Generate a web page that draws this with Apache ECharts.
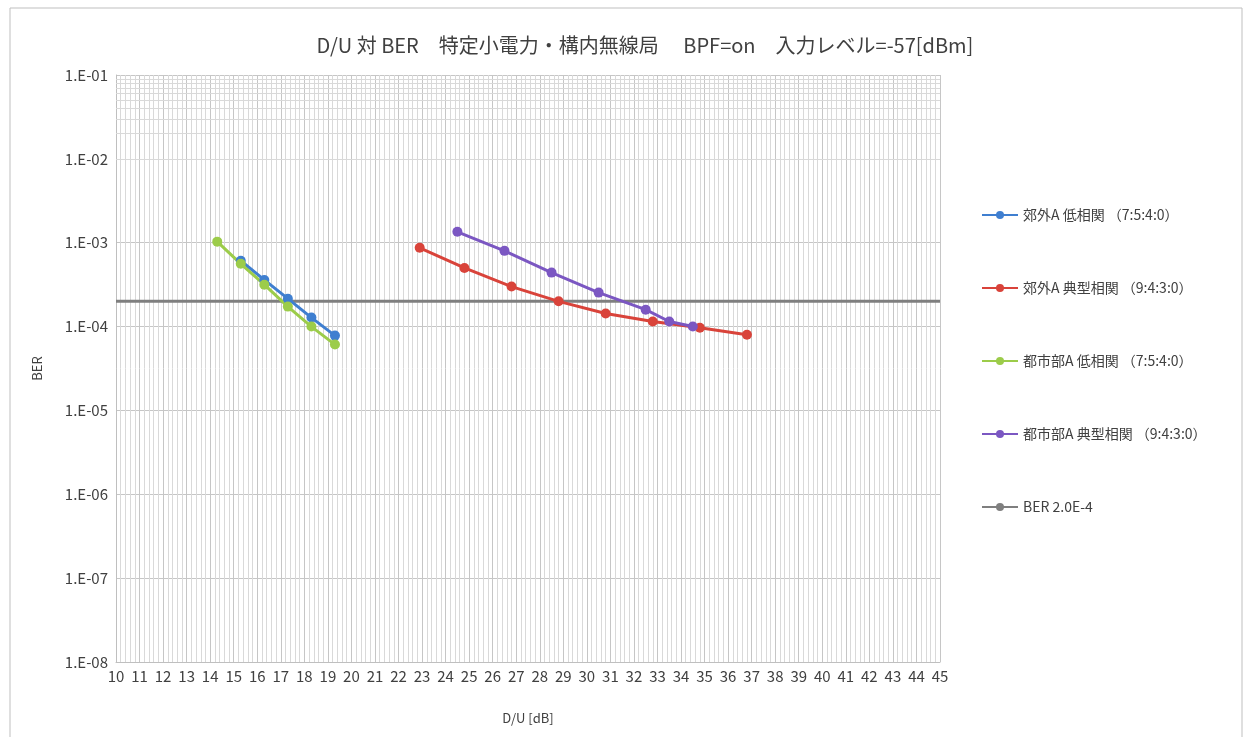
<!DOCTYPE html>
<html><head><meta charset="utf-8">
<script src="https://cdn.jsdelivr.net/npm/echarts@6/dist/echarts.min.js"></script>
<style>html,body{margin:0;padding:0;background:#fff}#c{width:1247px;height:737px}</style>
</head><body><div id="c"></div>
<script>
// Data
const titleText = 'D/U 対 BER　特定小電力・構内無線局　 BPF=on　入力レベル=-57[dBm]';
const seriesNames = ['郊外A 低相関 （7:5:4:0）', '郊外A 典型相関 （9:4:3:0）', '都市部A 低相関 （7:5:4:0）', '都市部A 典型相関 （9:4:3:0）', 'BER 2.0E-4'];
const suburbLowX = [15.3, 16.3, 17.3, 18.3, 19.3];
const suburbLowY = [6.1e-4, 3.6e-4, 2.15e-4, 1.28e-4, 7.8e-5];
const suburbTypX = [22.9, 24.8, 26.8, 28.8, 30.8, 32.8, 34.8, 36.8];
const suburbTypY = [8.7e-4, 5.0e-4, 3.0e-4, 2.0e-4, 1.43e-4, 1.15e-4, 9.7e-5, 8.0e-5];
const urbanLowX = [14.3, 15.3, 16.3, 17.3, 18.3, 19.3];
const urbanLowY = [1.03e-3, 5.6e-4, 3.16e-4, 1.73e-4, 1.0e-4, 6.1e-5];
const urbanTypX = [24.5, 26.5, 28.5, 30.5, 32.5, 33.5, 34.5];
const urbanTypY = [1.35e-3, 8.0e-4, 4.4e-4, 2.54e-4, 1.59e-4, 1.15e-4, 1.0e-4];
const berLimitX = [10, 45];
const berLimitY = [2.0e-4, 2.0e-4];
const xMin = 10, xMax = 45;
const yMinExp = -8, yMaxExp = -1;
const colors = ['#3f7fd0', '#d9433a', '#9ccc4a', '#7b57c2', '#7f7f7f'];

const zip = (xs, ys) => xs.map((x, i) => [x, ys[i]]);
// minor log gridlines (2..9 per decade)
const minorLines = [];
for (let e = yMinExp; e < yMaxExp; e++) {
  for (let k = 2; k <= 9; k++) minorLines.push({ yAxis: k * Math.pow(10, e) });
}
const font = '"Noto Sans CJK JP", "Noto Sans", sans-serif';
const chart = echarts.init(document.getElementById('c'), null, { renderer: 'canvas' });
const lineSeries = (name, data, color) => ({
  name, type: 'line', data, symbol: 'circle', symbolSize: 10,
  lineStyle: { width: 3, color }, itemStyle: { color }, z: 5
});
chart.setOption({
  animation: false,
  color: colors,
  textStyle: { fontFamily: font },
  graphic: [{ type: 'rect', shape: { x: 10, y: 8, width: 1232, height: 740 }, style: { fill: 'none', stroke: '#bfbfbf', lineWidth: 1 }, silent: true }],
  title: { text: titleText, left: 640, textAlign: 'center', top: 30, textStyle: { fontSize: 20, fontWeight: 'normal', color: '#404040', fontFamily: font } },
  legend: {
    orient: 'vertical', left: 976, top: 203, itemGap: 59, itemWidth: 36, itemHeight: 10,
    textStyle: { fontSize: 14, color: '#404040', fontFamily: font },
    data: seriesNames
  },
  grid: { left: 116, right: 307, top: 75, bottom: 75, containLabel: false },
  xAxis: {
    type: 'value', min: xMin, max: xMax, interval: 1,
    name: 'D/U [dB]', nameLocation: 'middle', nameGap: 50,
    nameTextStyle: { fontSize: 13, color: '#404040' },
    axisLine: { show: true, lineStyle: { color: '#bfbfbf' } },
    axisTick: { show: false },
    axisLabel: { fontSize: 15, color: '#404040', margin: 7 },
    splitLine: { show: true, lineStyle: { color: '#c6c6c6', width: 1 } },
    minorTick: { show: false, splitNumber: 5 },
    minorSplitLine: { show: true, lineStyle: { color: '#d9d9d9', width: 1 } }
  },
  yAxis: {
    type: 'log', logBase: 10, min: Math.pow(10, yMinExp), max: Math.pow(10, yMaxExp),
    name: 'BER', nameLocation: 'middle', nameGap: 72, nameRotate: 90,
    nameTextStyle: { fontSize: 13, color: '#404040' },
    axisLine: { show: true, lineStyle: { color: '#bfbfbf' } },
    axisTick: { show: false },
    axisLabel: { fontSize: 15, color: '#404040', margin: 8,
      formatter: v => { const e = Math.round(Math.log10(v)); return '1.E' + (e < 0 ? '-' : '+') + String(Math.abs(e)).padStart(2, '0'); } },
    splitLine: { show: true, lineStyle: { color: '#c6c6c6', width: 1 } },
    minorSplitLine: { show: false }
  },
  series: [
    lineSeries(seriesNames[0], zip(suburbLowX, suburbLowY), colors[0]),
    lineSeries(seriesNames[1], zip(suburbTypX, suburbTypY), colors[1]),
    lineSeries(seriesNames[2], zip(urbanLowX, urbanLowY), colors[2]),
    lineSeries(seriesNames[3], zip(urbanTypX, urbanTypY), colors[3]),
    { name: seriesNames[4], type: 'line', data: zip(berLimitX, berLimitY), symbol: 'none', showSymbol: false,
      lineStyle: { width: 3, color: colors[4] }, itemStyle: { color: colors[4] }, z: 4 },
    { name: 'minor', type: 'line', data: [], silent: true, z: 1,
      markLine: { silent: true, symbol: 'none', label: { show: false }, animation: false,
        lineStyle: { color: '#d9d9d9', width: 1, type: 'solid' }, data: minorLines } }
  ]
});
</script></body></html>
